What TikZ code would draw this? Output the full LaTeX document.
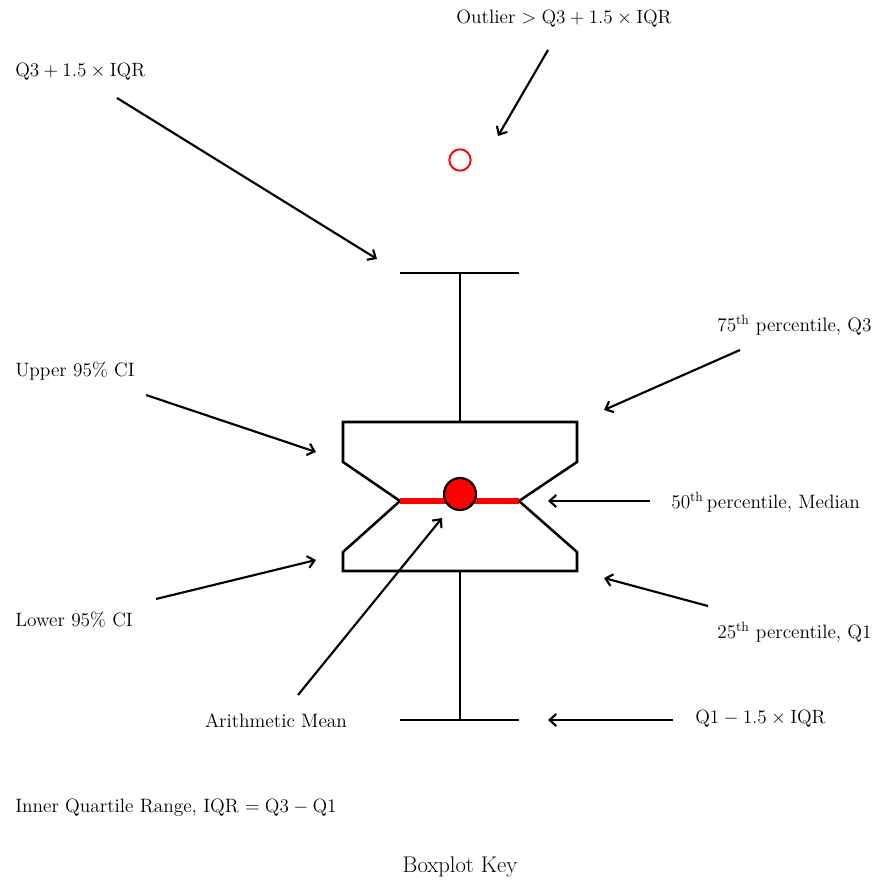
\documentclass[tikz,border=0pt]{standalone}
\usepackage{amssymb,amsmath}
\usepackage{tikz}
\usetikzlibrary{arrows,arrows.meta}
\tikzstyle{lbl}=[inner sep=0pt,font=\fontsize{14.5}{17}\selectfont]
\tikzstyle{pointer} = [draw,line width=1.6pt,-{Straight Barb[length=5pt,width=9pt]}]
\tikzstyle{boxline} = [draw,line width=1.9pt,line join=miter]

\begin{document}
\begin{tikzpicture}[x=0.75pt,y=-0.75pt]
        \useasboundingbox (0,0) rectangle (888,884);
        %\tikzset{pointer/.style = {->,>=latex'}}
        % texts
        \node[lbl] (outl) at (564,19) {Outlier $>\mathrm{Q3}+1.5\times\mathrm{IQR}$};
        \node[lbl,anchor=west] (uwh) at (15,72) {$\mathrm{Q3}+1.5\times\mathrm{IQR}$};
        \node[lbl,anchor=west] (q3) at (717,325) {75\textsuperscript{th} percentile, Q3};
        \node[lbl,anchor=west] (uci) at (15,371) {Upper 95\% CI};
        \node[lbl,anchor=west] (med) at (671,502) {50\textsuperscript{th}\,percentile, Median};
        \node[lbl,anchor=west] (lci) at (15,620) {Lower 95\% CI};
        \node[lbl,anchor=west] (q1) at (717,632) {25\textsuperscript{th} percentile, Q1};
        \node[lbl] (mean) at (276,721) {Arithmetic Mean};
        \node[lbl,anchor=west] (lwh) at (695,719) {$\mathrm{Q1}-1.5\times\mathrm{IQR}$};
        \node[lbl,anchor=west] (iqr) at (15,808) {Inner Quartile Range, IQR $=\mathrm{Q3}-\mathrm{Q1}$};
        \node[inner sep=0pt,font=\fontsize{17}{20}\selectfont] (key) at (460,867) {Boxplot Key};
        % whiskers and box
        \coordinate (ut) at (460,273);
        \coordinate (ub) at (460,422);
        \coordinate (lt) at (460,571);
        \coordinate (lb) at (460,720);
        \draw[boxline] (400,273) -- (519,273);
        \draw[boxline] (ut) -- (ub);
        \draw[boxline] (343,462) -- (343,422) -- (577,422) -- (577,462) -- (519,501) -- (577,552)
                -- (577,571) -- (343,571) -- (343,552) -- (400,501) -- cycle;
        \draw[boxline] (lt) -- (lb);
        \draw[boxline] (400,720) -- (519,720);
        \coordinate (ml) at (400,501);
        \coordinate (mr) at (519,501);
        \draw[red,line width=4.5pt] (ml) -- (mr);
        \node[circle,draw=black,line width=1.6pt,fill=red,minimum size=24pt,inner sep=0pt] (avg) at (460,494) {};
        \node[circle,draw=red,line width=1.4pt,minimum size=16pt,inner sep=0pt] (out) at (460,160) {};
        % arrows
        \coordinate (a1s) at (548,50);  \coordinate (a1e) at (498,136);
        \coordinate (a2s) at (117,98);  \coordinate (a2e) at (377,259);
        \coordinate (a3s) at (740,350); \coordinate (a3e) at (604,410);
        \coordinate (a4s) at (146,395); \coordinate (a4e) at (316,452);
        \coordinate (a5s) at (650,501); \coordinate (a5e) at (548,501);
        \coordinate (a6s) at (156,599); \coordinate (a6e) at (316,560);
        \coordinate (a7s) at (708,606); \coordinate (a7e) at (604,578);
        \coordinate (a8s) at (298,695); \coordinate (a8e) at (442,518);
        \coordinate (a9s) at (673,720); \coordinate (a9e) at (548,720);
        \draw[pointer] (a1s) to (a1e);
        \draw[pointer] (a2s) to (a2e);
        \draw[pointer] (a3s) to (a3e);
        \draw[pointer] (a4s) to (a4e);
        \draw[pointer] (a5s) to (a5e);
        \draw[pointer] (a6s) to (a6e);
        \draw[pointer] (a7s) to (a7e);
        \draw[pointer] (a8s) to (a8e);
        \draw[pointer] (a9s) to (a9e);
      \end{tikzpicture}
\end{document}
